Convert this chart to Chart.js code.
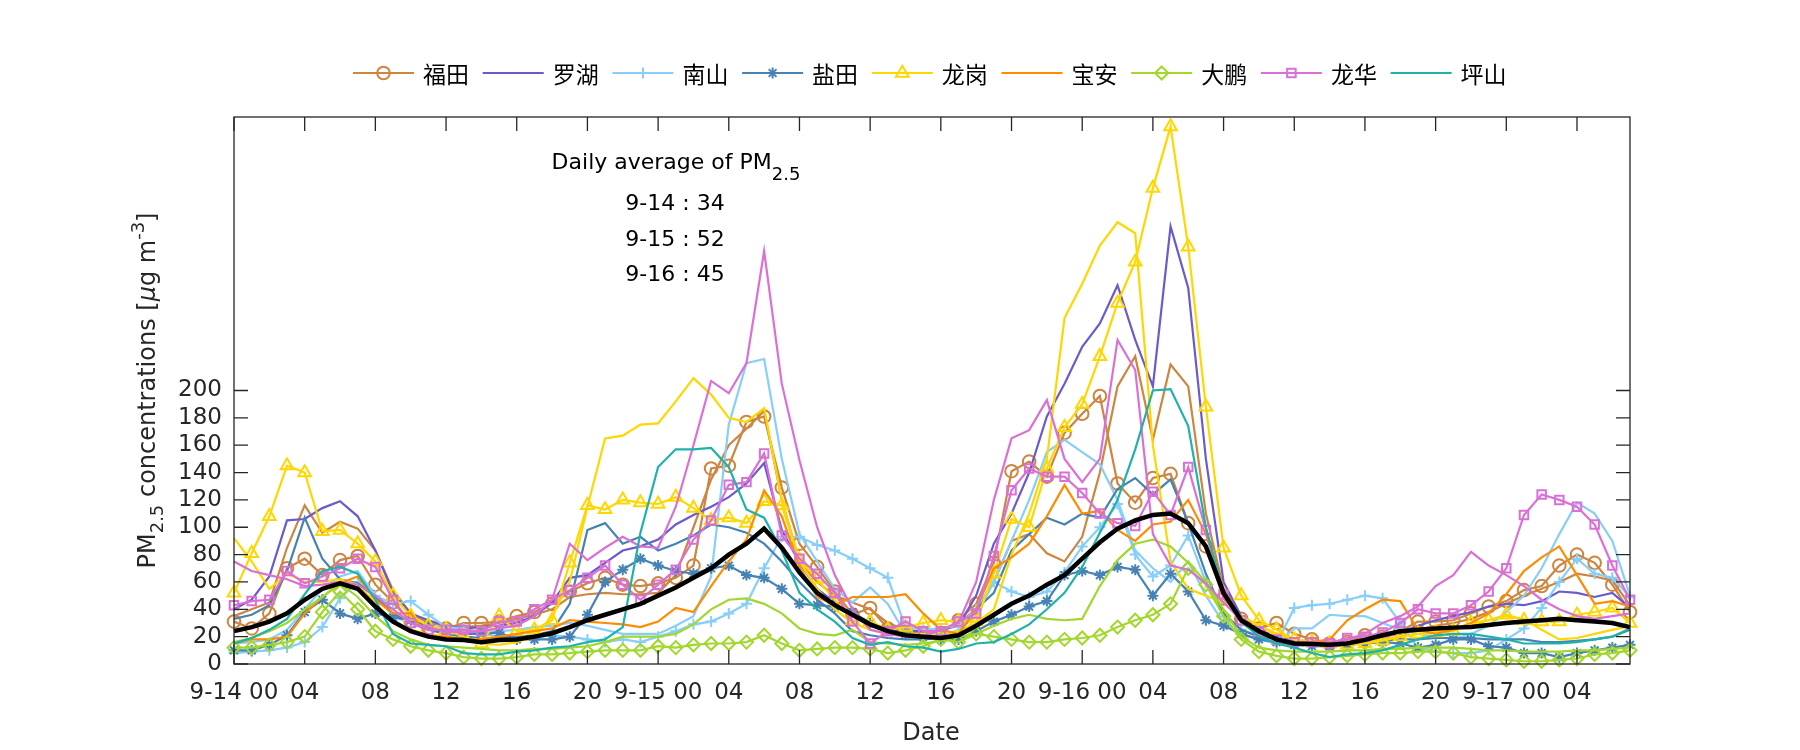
<!DOCTYPE html>
<html lang="zh">
<head>
  <meta charset="UTF-8">
  <title>PM2.5 concentrations</title>
  <script src="https://cdn.jsdelivr.net/npm/chart.js"></script>
  <style>
    body {
      margin: 0;
      background: #fff;
    }
    canvas {
      display: block;
    }
  </style>
</head>
<body>
  <canvas id="pmChart" width="1800" height="750"></canvas>

  <script>
    // hours counted from 9-14 00:00
    const hours = Array.from({ length: 80 }, (_, i) => i);
    const xTicks = [0, 4, 8, 12, 16, 20, 24, 28, 32, 36, 40, 44, 48, 52, 56, 60, 64, 68, 72, 76];
    const xTickLabels = ['9-14 00', '04', '08', '12', '16', '20', '9-15 00', '04', '08', '12', '16', '20',
      '9-16 00', '04', '08', '12', '16', '20', '9-17 00', '04'];
    const yTicks = [0, 20, 40, 60, 80, 100, 120, 140, 160, 180, 200];

    const districts = ['福田', '罗湖', '南山', '盐田', '龙岗', '宝安', '大鹏', '龙华', '坪山'];
    const dailyDates = ['9-14', '9-15', '9-16'];
    const dailyAvg = [34, 52, 45];

    const average = [24, 27, 31, 37, 47, 55, 59, 55, 42, 31,
      24, 20, 18, 17.5, 16, 17.5, 18, 20, 22.5, 27,
      32, 36, 40, 44, 50, 56, 63, 70, 80, 88,
      99, 85, 67, 52, 43, 36, 29, 24, 21, 20,
      19, 21, 28, 36, 44, 50, 58, 65, 77, 89,
      99, 105, 109, 110, 103, 86, 52, 32, 24, 18,
      15, 14.6, 14, 15, 17.6, 21, 24, 25, 26, 26.6,
      27, 28.5, 30, 31, 32, 33, 32, 31, 30, 27];

    const futianA = [31, 26, 37, 70, 77, 65, 76, 79, 58, 45,
      31, 26, 26, 30, 30, 31, 35, 38, 44, 53,
      59, 63, 58, 57, 59, 63, 72, 143, 145, 177,
      181, 129, 88, 71, 53, 36, 41, 26, 26, 22,
      22, 32, 44, 74, 141, 148, 137, 169, 183, 196,
      132, 118, 136, 139, 103, 86, 48, 33, 26, 30,
      22, 18, 15, 16, 21, 20, 24, 31, 31, 32,
      37, 42, 46, 54, 57, 72, 80, 74, 58, 38];
    const futianB = [35, 40, 45, 85, 116, 96, 104, 99, 83, 54,
      37, 30, 28, 27, 28, 30, 33, 36, 40, 49,
      51, 52, 51, 51, 52, 65, 100, 135, 160, 172,
      185, 120, 75, 60, 50, 45, 40, 30, 25, 22,
      25, 30, 40, 60, 90, 95, 81, 75, 93, 140,
      203, 225, 164, 219, 203, 110, 55, 35, 28, 22,
      18, 16, 15, 16, 18, 20, 22, 25, 28, 30,
      33, 38, 44, 50, 55, 60, 66, 64, 61, 43];
    const luohu = [40, 47, 64, 105, 106, 114, 119, 108, 83, 52,
      37, 32, 28, 26, 27, 28, 30, 35, 45, 63,
      65, 74, 83, 86, 91, 102, 109, 115, 122, 132,
      147, 98, 74, 55, 45, 35, 28, 25, 24, 24,
      25, 28, 50, 88, 110, 140, 181, 205, 232, 249,
      277, 237, 203, 320, 275, 150, 60, 35, 25, 20,
      17, 16, 15, 16, 18, 20, 23, 28, 32, 35,
      38, 42, 44, 43, 46, 53, 52, 49, 52, 41];
    const nanshanA = [8, 9, 10, 12, 16, 27, 48, 60, 50, 44,
      46, 36, 27, 26, 22, 20, 18, 19, 21, 20,
      18, 16, 18, 16, 20, 24, 29, 31, 37, 44,
      70, 93, 93, 87, 83, 77, 70, 63, 27, 25,
      26, 28, 40, 60, 53, 49, 53, 67, 86, 100,
      117, 80, 64, 72, 94, 60, 35, 25, 20, 15,
      41, 43, 44, 47, 50, 48, 30, 12, 9, 8,
      8, 10, 18, 26, 41, 60, 77, 66, 63, 49];
    const nanshanB = [15, 16, 18, 25, 40, 55, 64, 68, 50, 35,
      30, 28, 26, 24, 23, 24, 25, 27, 28, 30,
      28, 25, 22, 22, 22, 28, 35, 64, 175, 220,
      223, 150, 95, 75, 55, 45, 56, 44, 22, 20,
      20, 25, 35, 60, 90, 120, 155, 164, 155, 146,
      120, 83, 70, 60, 75, 50, 30, 22, 18, 15,
      26, 26, 36, 35, 35, 30, 25, 22, 20, 18,
      22, 28, 38, 50, 70, 95, 118, 110, 90, 50];
    const yantianA = [10, 10, 14, 21, 38, 47, 37, 33, 37, 34,
      32, 28, 24, 22, 22, 23, 18, 18, 18, 20,
      36, 60, 69, 77, 72, 68, 66, 70, 72, 65,
      63, 55, 44, 43, 42, 38, 30, 25, 22, 20,
      18, 18, 24, 31, 36, 42, 46, 65, 68, 65,
      71, 69, 50, 66, 53, 32, 28, 22, 18, 16,
      14, 13, 13, 14, 15, 16, 15, 12, 14, 18,
      18, 13, 12, 8, 8, 5, 8, 10, 12, 14];
    const yantianB = [33, 36, 43, 68, 107, 77, 62, 59, 49, 37,
      30, 25, 22, 20, 19, 19, 20, 21, 24, 44,
      98, 103, 88, 93, 83, 88, 94, 102, 100, 96,
      88, 75, 60, 47, 37, 24, 21, 19, 18, 18,
      19, 22, 40, 52, 83, 95, 107, 102, 110, 107,
      128, 136, 124, 135, 103, 66, 37, 25, 20, 18,
      17, 16, 15, 15, 16, 17, 18, 18, 19, 19,
      19, 18, 18, 18, 16, 16, 17, 18, 20, 25];
    const longgangA = [52, 81, 108, 145, 140, 97, 98, 88, 75, 50,
      35, 28, 25, 20, 15, 35, 24, 25, 32, 74,
      116, 113, 120, 118, 117, 122, 114, 105, 107, 103,
      119, 116, 76, 62, 47, 32, 31, 25, 27, 30,
      32, 31, 31, 66, 106, 100, 143, 173, 190, 225,
      264, 294, 348, 393, 305, 188, 85, 50, 32, 25,
      18, 16, 15, 14, 15, 17, 20, 22, 23, 24,
      30, 32, 36, 32, 31, 31, 36, 38, 41, 30];
    const longgangB = [92, 75, 55, 66, 60, 60, 62, 58, 45, 30,
      25, 22, 20, 18, 15, 14, 16, 20, 35, 60,
      115, 165, 167, 175, 176, 192, 209, 197, 180, 177,
      187, 120, 75, 55, 40, 30, 25, 22, 22, 22,
      22, 24, 30, 40, 80, 110, 150, 253, 278, 306,
      323, 315, 160, 75, 55, 50, 45, 35, 28, 22,
      18, 16, 15, 15, 16, 18, 20, 22, 24, 26,
      28, 32, 35, 33, 25, 18, 19, 22, 25, 28];
    const baoan = [15, 18, 18, 20, 37, 49, 59, 64, 47, 37,
      37, 20, 20, 18, 18, 20, 22, 24, 26, 32,
      31, 30, 29, 27, 31, 41, 38, 57, 75, 91,
      127, 108, 71, 49, 43, 49, 49, 49, 51, 37,
      25, 22, 40, 70, 78, 88, 108, 131, 110, 112,
      98, 90, 102, 104, 120, 95, 55, 30, 22, 18,
      15, 16, 18, 32, 40, 47, 46, 25, 22, 25,
      30, 37, 51, 68, 78, 86, 65, 44, 46, 42];
    const dapengA = [12, 12, 14, 16, 20, 38, 53, 40, 24, 18,
      13, 10, 8, 5, 4, 4, 5, 7, 7, 8,
      9, 10, 10, 10, 13, 12, 14, 15, 15, 16,
      21, 15, 10, 11, 12, 12, 11, 8, 10, 13,
      18, 16, 22, 20, 18, 16, 16, 18, 19, 21,
      27, 32, 36, 44, 70, 58, 35, 18, 9, 6,
      4, 4, 5, 6, 7, 8, 8, 9, 9, 8,
      5, 4, 3, 2, 2, 3, 4, 7, 8, 10];
    const dapengB = [16, 19, 24, 30, 40, 49, 59, 49, 35, 24,
      18, 14, 13, 12, 11, 10, 10, 11, 11, 12,
      13, 16, 20, 20, 20, 22, 29, 40, 47, 48,
      44, 37, 26, 22, 21, 25, 16, 15, 14, 15,
      17, 20, 22, 28, 33, 36, 33, 32, 33, 57,
      76, 88, 91, 86, 74, 60, 40, 20, 12, 10,
      9, 9, 9, 10, 10, 11, 11, 12, 12, 12,
      11, 10, 10, 9, 9, 9, 10, 10, 11, 12];
    const longhuaA = [43, 46, 47, 68, 59, 64, 70, 77, 71, 47,
      30, 25, 25, 25, 24, 31, 31, 40, 47, 54,
      63, 72, 58, 47, 58, 69, 91, 105, 131, 133,
      154, 94, 77, 66, 52, 31, 15, 24, 31, 24,
      24, 31, 37, 79, 127, 143, 137, 137, 125, 110,
      103, 101, 126, 109, 144, 98, 51, 32, 24, 18,
      16, 16, 15, 19, 20, 23, 30, 40, 37, 37,
      43, 53, 70, 109, 124, 120, 115, 102, 72, 47];
    const longhuaB = [75, 68, 65, 62, 57, 58, 60, 58, 50, 40,
      30, 26, 24, 23, 24, 26, 28, 35, 47, 88,
      76, 85, 93, 86, 85, 115, 160, 207, 198, 220,
      302, 205, 149, 100, 65, 40, 25, 22, 20, 20,
      25, 30, 60, 120, 165, 171, 193, 150, 133, 150,
      237, 215, 95, 72, 69, 59, 45, 32, 22, 18,
      15, 15, 16, 18, 22, 30, 35, 42, 57, 65,
      82, 72, 65, 57, 47, 40, 35, 33, 35, 37];
    const pingshan = [15, 19, 25, 33, 51, 68, 71, 66, 47, 22,
      15, 14, 13, 8, 7, 7, 9, 10, 12, 13,
      16, 18, 27, 96, 144, 157, 157, 158, 144, 113,
      107, 83, 52, 40, 31, 19, 14, 16, 13, 12,
      9, 11, 15, 16, 22, 29, 40, 52, 71, 96,
      120, 157, 200, 201, 174, 100, 52, 31, 20, 15,
      12, 8, 5, 7, 8, 10, 14, 18, 21, 22,
      22, 20, 18, 15, 15, 15, 16, 18, 20, 26];

    // district, values, draw markers
    const stations = [
      ['福田', futianA, true], ['福田', futianB, false],
      ['罗湖', luohu, false],
      ['南山', nanshanA, true], ['南山', nanshanB, false],
      ['盐田', yantianA, true], ['盐田', yantianB, false],
      ['龙岗', longgangA, true], ['龙岗', longgangB, false],
      ['宝安', baoan, false],
      ['大鹏', dapengA, true], ['大鹏', dapengB, false],
      ['龙华', longhuaA, true], ['龙华', longhuaB, false],
      ['坪山', pingshan, false]
    ];

    const look = {
      '福田': { color: '#CD853F', marker: 'circle', r: 6.3 },
      '罗湖': { color: '#6A5ACD', marker: null },
      '南山': { color: '#87CEFA', marker: 'cross', r: 5.5 },
      '盐田': { color: '#4682B4', marker: 'star', r: 5.5 },
      '龙岗': { color: '#FFD700', marker: 'triangle', r: 7.3 },
      '宝安': { color: '#FF8C00', marker: null },
      '大鹏': { color: '#A2D72E', marker: 'rectRot', r: 6.5 },
      '龙华': { color: '#DA70D6', marker: 'rect', r: 6 },
      '坪山': { color: '#20B2AA', marker: null }
    };

    const axisColor = '#262626';
    const latin = 'DejaVu Sans';
    const cjk = '"Noto Sans CJK SC"';

    const toPoints = vals => vals.map((v, i) => ({ x: hours[i], y: v }));

    const datasets = [{
      label: 'average',
      data: toPoints(average),
      borderColor: '#000',
      borderWidth: 4.5,
      pointRadius: 0,
      clip: false
    }];
    stations.slice().reverse().forEach(([name, vals, marked]) => {
      const st = look[name];
      datasets.push({
        label: name,
        data: toPoints(vals),
        borderColor: st.color,
        borderWidth: 2.2,
        pointStyle: marked ? st.marker : false,
        pointRadius: marked ? st.r : 0,
        pointBorderColor: st.color,
        pointBackgroundColor: 'rgba(0,0,0,0)',
        pointBorderWidth: 2,
        clip: false
      });
    });

    function drawPieces(ctx, pieces, startX, baseY) {
      let x = startX;
      pieces.forEach(p => {
        ctx.font = p.font;
        ctx.fillText(p.text, x, baseY + (p.dy || 0));
        x += ctx.measureText(p.text).width;
      });
    }
    function piecesWidth(ctx, pieces) {
      return pieces.reduce((w, p) => { ctx.font = p.font; return w + ctx.measureText(p.text).width; }, 0);
    }

    const overlay = {
      id: 'overlay',
      afterDatasetsDraw(chart) {
        const { ctx, chartArea: a, scales: { x, y } } = chart;
        ctx.save();
        ctx.strokeStyle = axisColor;
        ctx.lineWidth = 1.3;
        ctx.strokeRect(a.left, a.top, a.right - a.left, a.bottom - a.top);
        ctx.beginPath();
        xTicks.forEach(t => {
          const px = x.getPixelForValue(t);
          ctx.moveTo(px, a.bottom); ctx.lineTo(px, a.bottom - 14);
          ctx.moveTo(px, a.top); ctx.lineTo(px, a.top + 14);
        });
        yTicks.forEach(t => {
          const py = y.getPixelForValue(t);
          ctx.moveTo(a.left, py); ctx.lineTo(a.left + 14, py);
          ctx.moveTo(a.right, py); ctx.lineTo(a.right - 14, py);
        });
        ctx.stroke();
        ctx.restore();
      },
      afterDraw(chart) {
        const { ctx, chartArea: a } = chart;
        ctx.save();

        // legend
        ctx.textBaseline = 'middle';
        ctx.textAlign = 'left';
        districts.forEach((name, i) => {
          const st = look[name];
          const lx = 353 + i * 129.7, ly = 73;
          ctx.strokeStyle = st.color;
          ctx.lineWidth = 2.2;
          ctx.beginPath();
          ctx.moveTo(lx, ly); ctx.lineTo(lx + 61, ly);
          ctx.stroke();
          if (st.marker) {
            ctx.fillStyle = 'rgba(0,0,0,0)';
            ctx.lineWidth = 2;
            Chart.helpers.drawPoint(ctx, { pointStyle: st.marker, radius: st.r, rotation: 0, borderWidth: 2 }, lx + 30.5, ly);
          }
          ctx.fillStyle = '#000';
          ctx.font = '23px ' + cjk;
          ctx.fillText(name, lx + 70, ly + 1);
        });

        // daily average note
        ctx.fillStyle = '#000';
        ctx.textBaseline = 'alphabetic';
        const head = [
          { text: 'Daily average of PM', font: '22px ' + latin },
          { text: '2.5', font: '18px ' + latin, dy: 11 }
        ];
        drawPieces(ctx, head, 676 - piecesWidth(ctx, head) / 2, 169);
        ctx.font = '22px ' + latin;
        ctx.textAlign = 'center';
        const baseLines = [210, 245.5, 280.5];
        dailyDates.forEach((d, i) => ctx.fillText(d + ' : ' + dailyAvg[i], 675, baseLines[i]));

        // axis titles
        ctx.fillStyle = axisColor;
        ctx.font = '24px ' + latin;
        ctx.fillText('Date', 931, 740);

        ctx.textAlign = 'left';
        const yTitle = [
          { text: 'PM', font: '24px ' + latin },
          { text: '2.5', font: '18px ' + latin, dy: 8 },
          { text: ' concentrations [', font: '24px ' + latin },
          { text: 'μ', font: 'italic 24px ' + latin },
          { text: 'g m', font: '24px ' + latin },
          { text: '-3', font: '18px ' + latin, dy: -11 },
          { text: ']', font: '24px ' + latin }
        ];
        ctx.translate(155, (a.top + a.bottom) / 2);
        ctx.rotate(-Math.PI / 2);
        drawPieces(ctx, yTitle, -piecesWidth(ctx, yTitle) / 2, 0);
        ctx.restore();
      }
    };

    const ctx = document.getElementById('pmChart').getContext('2d');
    new Chart(ctx, {
      type: 'line',
      data: { datasets },
      plugins: [overlay],
      options: {
        responsive: false,
        animation: false,
        devicePixelRatio: 1,
        layout: { padding: { top: 117, right: 170, left: 0, bottom: 0 } },
        elements: { line: { tension: 0 } },
        plugins: {
          legend: { display: false },
          tooltip: { enabled: false }
        },
        scales: {
          x: {
            type: 'linear',
            min: 0,
            max: 79,
            afterBuildTicks: s => { s.ticks = xTicks.map(v => ({ value: v })); },
            afterFit: s => { s.height = 86; },
            grid: { display: false, drawTicks: false },
            border: { display: false },
            ticks: {
              autoSkip: false,
              maxRotation: 0,
              padding: 15,
              color: axisColor,
              font: { family: latin, size: 23 },
              callback: (v, i) => xTickLabels[i]
            }
          },
          y: {
            min: 0,
            max: 400,
            afterBuildTicks: s => { s.ticks = yTicks.map(v => ({ value: v })); },
            afterFit: s => { s.width = 234; },
            grid: { display: false, drawTicks: false },
            border: { display: false },
            ticks: {
              padding: 12,
              color: axisColor,
              font: { family: latin, size: 23 },
              callback: v => v
            }
          }
        }
      }
    });
  </script>
</body>
</html>
